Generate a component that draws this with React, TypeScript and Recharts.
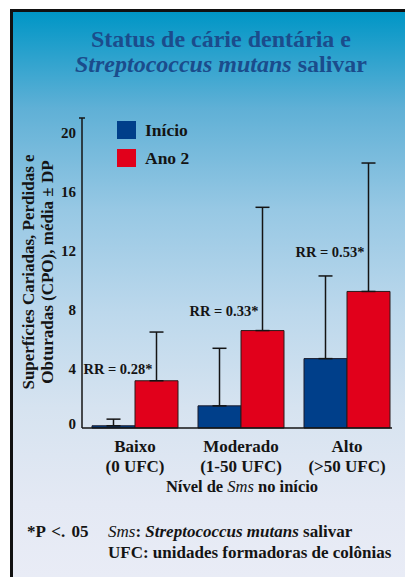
import React from 'react';
import { BarChart, Bar, XAxis, YAxis, ErrorBar, LabelList, Legend } from 'recharts';

const categories = ['Baixo', 'Moderado', 'Alto'];
const categoryRanges = ['(0 UFC)', '(1-50 UFC)', '(>50 UFC)'];
const seriesNames = ['Início', 'Ano 2'];
const inicioMeans = [0.15, 1.5, 4.7];
const inicioSD = [0.45, 3.9, 5.6];
const ano2Means = [3.2, 6.6, 9.25];
const ano2SD = [3.3, 8.35, 8.7];
const rrLabels = ['RR = 0.28*', 'RR = 0.33*', 'RR = 0.53*'];
const rrAnchor = [4, 7.9, 11.9]; // where the RR note sits, in CPO units
const yTicks = [0, 4, 8, 12, 16, 20, 21];

const data = categories.map((name, i) => ({
  name,
  inicio: inicioMeans[i],
  inicioErr: [0, inicioSD[i]],
  ano2: ano2Means[i],
  ano2Err: [0, ano2SD[i]],
  rr: rrLabels[i],
}));

const SERIF = '"Liberation Serif", "DejaVu Serif", serif';
const BLUE = '#003f8a';
const RED = '#e1001b';
const INK = '#141414';

const YTick = ({ x, y, payload }: any) => {
  // the top "tick" is just the cap at the end of the axis
  if (payload.value === 21) {
    return <line x1={x + 3} x2={x + 9} y1={y} y2={y} stroke={INK} strokeWidth={1.5} />;
  }
  return (
    <text x={x} y={y} dy={payload.value === 0 ? 1 : 5} textAnchor="end" fontFamily={SERIF} fontWeight="bold" fontSize={15} fill={INK}>
      {payload.value}
    </text>
  );
};

const CategoryTick = ({ x, y, payload, index }: any) => (
  <text x={x} y={y} textAnchor="middle" fontFamily={SERIF} fontWeight="bold" fontSize={17} fill={INK}>
    <tspan x={x} dy={22}>{payload.value}</tspan>
    <tspan x={x} dy={20}>{categoryRanges[index]}</tspan>
  </text>
);

const RRLabel = (props: any) => {
  const { x, y, width, height, index, value } = props;
  const perUnit = height / ano2Means[index];
  const ty = y + height - rrAnchor[index] * perUnit;
  return (
    <text x={x + width / 2 - 4} y={ty} dy={5} textAnchor="end" fontFamily={SERIF} fontWeight="bold" fontSize={14.5} fill={INK}>
      {value}
    </text>
  );
};

const LegendBox = ({ payload }: any) => {
  const items = [...(payload || [])].sort((a: any, b: any) => seriesNames.indexOf(a.value) - seriesNames.indexOf(b.value));
  return (
    <div style={{ fontFamily: SERIF, fontWeight: 'bold', fontSize: 17.5, color: INK }}>
      {items.map((p: any) => (
        <div key={p.value} style={{ display: 'flex', alignItems: 'center', height: 28 }}>
          <span style={{ width: 19, height: 18, background: p.color, display: 'inline-block', marginRight: 9 }} />
          {p.value}
        </div>
      ))}
    </div>
  );
};

export default function App() {
  return (
    <div style={{ position: 'absolute', left: 0, top: 0, width: 405, height: 577, background: '#fff', overflow: 'hidden', fontFamily: SERIF }}>
      <div
        style={{
          position: 'absolute', left: 10, top: 9, width: 395, height: 568,
          borderLeft: '3px solid #111', borderTop: '3px solid #111', boxSizing: 'border-box',
          background: 'linear-gradient(to bottom, #0096c6 0%, #5fb0d6 17%, #97c8e4 35%, #bcd8ec 53%, #d6e3f0 70%, #e4e9f4 87%, #e9ecf6 100%)',
        }}
      />
      <div style={{ position: 'absolute', left: 0, top: 27, width: 442, textAlign: 'center', color: '#1b4c8c', fontWeight: 'bold', fontSize: 24, lineHeight: '25px' }}>
        Status de cárie dentária e<br />
        <i>Streptococcus mutans</i> salivar
      </div>
      <div
        style={{
          position: 'absolute', left: 37.5 - 160, top: 272 - 19, width: 320, height: 38,
          transform: 'rotate(-90deg)', textAlign: 'center', fontWeight: 'bold', fontSize: 17, lineHeight: '19px', color: INK,
        }}
      >
        Superfícies Cariadas, Perdidas e<br />
        Obturadas (CPO), média ± DP
      </div>
      <div style={{ position: 'absolute', left: 0, top: 477, width: 484, textAlign: 'center', fontWeight: 'bold', fontSize: 16.5, lineHeight: '20px', color: INK }}>
        Nível de <i style={{ fontWeight: 'normal' }}>Sms</i> no início
      </div>
      <div style={{ position: 'absolute', left: 27, top: 521, fontWeight: 'bold', fontSize: 17, color: INK, lineHeight: '21px', wordSpacing: 2 }}>
        *P &lt;. 05
      </div>
      <div style={{ position: 'absolute', left: 108, top: 521, fontWeight: 'bold', fontSize: 17, color: INK, lineHeight: '21px' }}>
        <i style={{ fontWeight: 'normal' }}>Sms</i>: <i>Streptococcus mutans</i> salivar<br />
        UFC: unidades formadoras de colônias
      </div>
      <div style={{ position: 'absolute', left: 0, top: 0 }}>
        <BarChart width={405} height={577} data={data} margin={{ top: 118, right: 13, bottom: 89, left: 22 }} barGap={0} barSize={43}>
          <YAxis
            width={60}
            domain={[0, 21]}
            ticks={yTicks}
            interval={0}
            tickLine={false}
            tickSize={0}
            tickMargin={6}
            tick={<YTick />}
            axisLine={{ stroke: INK, strokeWidth: 1.5 }}
          />
          <XAxis
            dataKey="name"
            height={60}
            padding={{ left: 0, right: -8 }}
            tickLine={false}
            tickSize={0}
            tickMargin={2}
            interval={0}
            tick={<CategoryTick />}
            axisLine={{ stroke: INK, strokeWidth: 1.5 }}
          />
          <Legend
            layout="vertical"
            align="center"
            verticalAlign="middle"
            wrapperStyle={{ left: 117, top: 116, width: 120 }}
            content={<LegendBox />}
          />
          <Bar dataKey="inicio" name="Início" fill={BLUE} stroke="#1a1a2a" strokeWidth={1} isAnimationActive={false}>
            <ErrorBar dataKey="inicioErr" direction="y" width={7} stroke={INK} strokeWidth={1.5} />
          </Bar>
          <Bar dataKey="ano2" name="Ano 2" fill={RED} stroke="#2a1a1a" strokeWidth={1} isAnimationActive={false}>
            <ErrorBar dataKey="ano2Err" direction="y" width={7} stroke={INK} strokeWidth={1.5} />
            <LabelList dataKey="rr" content={<RRLabel />} />
          </Bar>
        </BarChart>
      </div>
    </div>
  );
}
